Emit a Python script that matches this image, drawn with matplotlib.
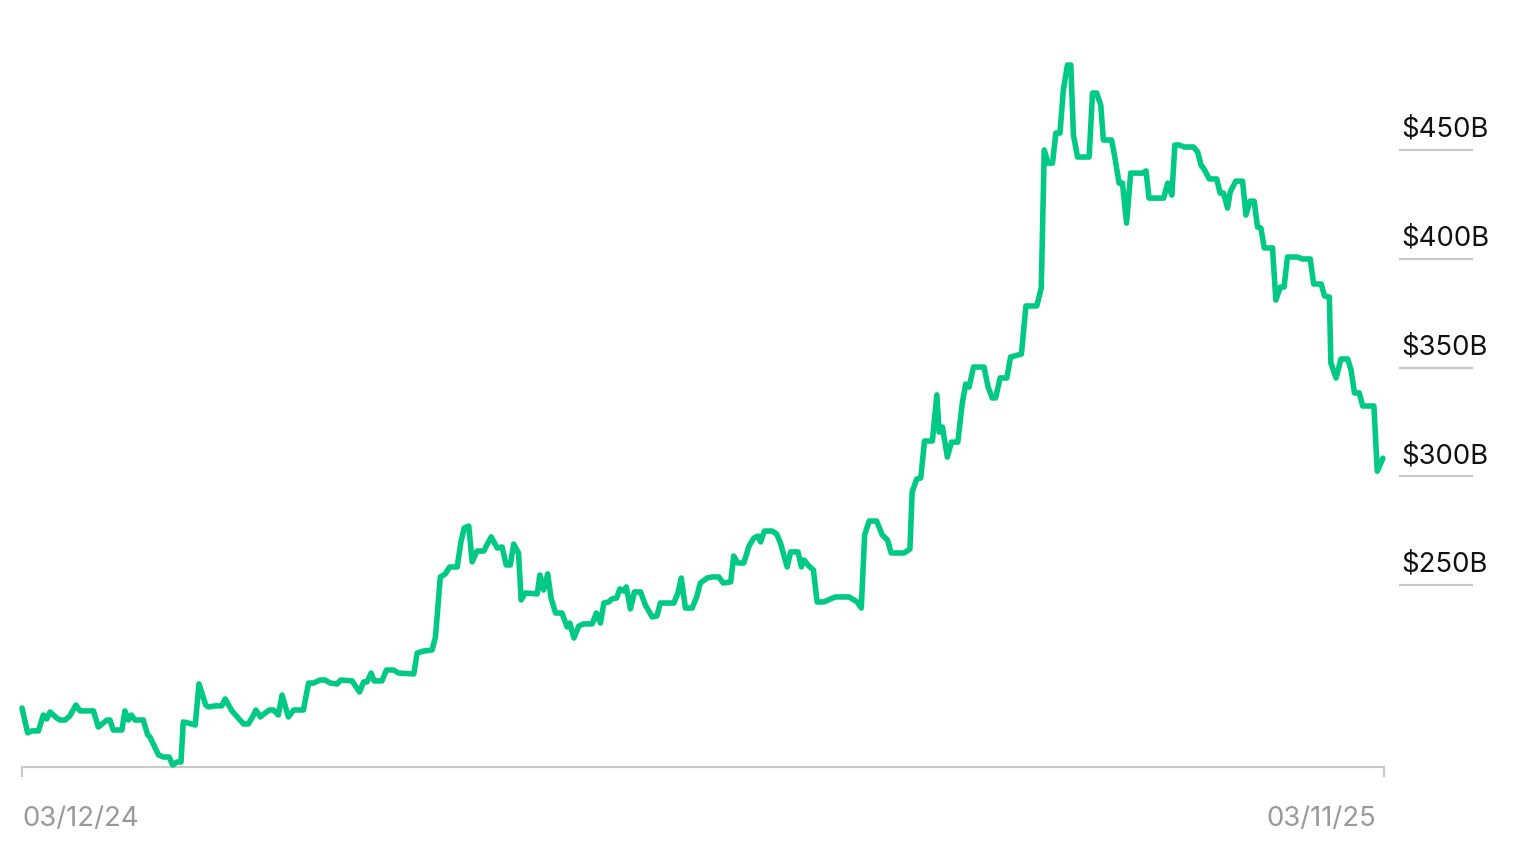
import matplotlib.pyplot as plt
from matplotlib.transforms import blended_transform_factory

plt.rcParams['font.family'] = ['Inter', 'DejaVu Sans']

# days since 03/12/24, value in billions of dollars
days = [0, 1.5, 2.6, 4.4, 5.7, 6.6, 7.5, 9.3, 10.2, 11.5, 12.8, 14.4, 15.5, 19.1, 20.4, 22.7, 23.5, 24.4, 26.7, 27.5,
        28.4, 29.2, 30.2, 32.4, 33.6, 34.2, 36.5, 37.8, 39.3, 40.3, 41.4, 42.5, 43.1, 44.5, 46.3, 47.3, 49.1, 49.8, 51.6, 53.4,
        54.3, 56.1, 59.2, 60.5, 61.6, 62.5, 63.7, 64.3, 66.1, 67.2, 68.5, 69.5, 71.2, 72.6, 75.2, 76.6, 77.9, 79.7, 81.0, 82.4,
        84.2, 85.2, 88.2, 90.2, 91.3, 92.2, 93.3, 94.1, 96.2, 97.4, 99.3, 100.6, 104.7, 105.6, 107.3, 109.6, 110.5, 111.8, 113.1, 114.3,
        116.3, 117.3, 118.2, 119.4, 120.3, 121.6, 123.4, 125.4, 127.0, 128.3, 129.4, 130.5, 131.4, 132.7, 133.4, 134.5, 137.7, 138.4, 139.4, 140.5,
        141.4, 142.6, 144.3, 145.7, 146.4, 147.5, 148.8, 150.1, 152.4, 153.5, 154.6, 155.5, 156.8, 157.7, 158.9, 159.8, 160.8, 161.5, 162.6, 163.7,
        165.3, 166.6, 168.4, 169.7, 170.6, 174.2, 175.3, 176.2, 177.3, 179.1, 180.3, 181.3, 183.1, 184.5, 186.2, 187.4, 189.4, 190.2, 191.3, 192.9,
        194.3, 195.6, 196.7, 197.4, 198.4, 200.5, 201.7, 202.7, 204.5, 205.4, 207.4, 208.3, 209.0, 210.3, 211.5, 212.5, 214.3, 216.1, 217.4, 221.0,
        223.2, 224.3, 225.2, 226.4, 228.4, 229.9, 231.3, 232.3, 235.7, 237.3, 237.9, 239.1, 240.2, 241.2, 243.3, 244.5, 245.1, 246.0, 247.3, 248.4,
        250.1, 251.3, 252.2, 253.1, 254.3, 257.1, 258.2, 259.3, 260.2, 261.4, 263.2, 264.2, 267.1, 268.3, 271.2, 272.4, 273.2, 274.2, 275.4, 276.3,
        277.4, 278.3, 279.4, 280.3, 281.0, 282.1, 285.2, 286.1, 287.2, 288.3, 289.0, 291.2, 292.1, 293.2, 294.1, 295.2, 296.3, 299.5, 300.4, 301.2,
        305.1, 306.2, 307.3, 308.1, 309.3, 310.6, 313.1, 314.2, 315.1, 315.9, 317.3, 319.3, 320.2, 321.1, 322.2, 322.9, 324.4, 326.2, 327.1, 328.2,
        329.3, 330.2, 331.1, 332.0, 334.2, 335.1, 336.3, 337.3, 338.2, 340.9, 342.2, 344.3, 345.2, 347.2, 348.1, 349.4, 349.8, 351.2, 352.5, 354.3,
        355.2, 356.1, 357.4, 358.3, 361.3, 362.2, 363.7]
values = [193.4, 182.0, 182.9, 182.9, 190.2, 188.4, 191.6, 188.8, 187.9, 187.9, 189.8, 194.8, 192.1, 192.1, 184.7, 187.9, 187.9, 183.3, 183.3, 192.1,
          187.9, 190.2, 187.9, 187.9, 181.0, 180.1, 171.8, 170.9, 170.9, 167.2, 168.6, 168.6, 187.0, 186.5, 185.6, 204.5, 194.8, 193.9, 194.4, 194.4,
          197.6, 192.1, 186.1, 186.1, 189.3, 192.5, 189.3, 190.2, 192.5, 192.5, 190.2, 199.4, 189.3, 192.5, 192.5, 204.9, 204.9, 206.3, 206.3, 204.9,
          204.5, 206.3, 205.9, 200.8, 205.4, 205.4, 209.5, 205.9, 205.9, 210.9, 210.9, 209.5, 209.1, 218.7, 219.6, 220.1, 226.1, 253.7, 255.0, 258.3,
          258.3, 269.7, 276.2, 277.1, 260.6, 265.6, 265.6, 272.1, 267.0, 267.5, 259.2, 259.2, 268.8, 264.7, 243.1, 246.3, 245.9, 254.6, 247.7, 255.1,
          244.0, 237.1, 237.1, 230.7, 232.5, 225.6, 231.1, 232.1, 232.1, 237.1, 232.5, 241.7, 242.2, 243.6, 244.0, 248.2, 247.2, 249.1, 239.0, 246.8,
          246.8, 240.8, 235.3, 235.8, 241.7, 241.7, 246.3, 253.2, 239.4, 239.4, 244.5, 250.9, 253.2, 253.7, 253.7, 250.9, 251.4, 263.3, 260.1, 260.1,
          267.9, 271.6, 272.5, 269.8, 274.8, 274.8, 273.4, 269.3, 258.3, 265.2, 265.2, 258.3, 261.5, 258.7, 256.9, 242.2, 242.2, 243.6, 244.5, 244.5,
          242.2, 239.4, 273.0, 279.4, 279.4, 273.0, 270.7, 264.7, 264.7, 266.5, 292.7, 298.7, 299.2, 316.2, 316.2, 337.4, 320.3, 322.6, 308.8, 315.7,
          315.7, 333.7, 342.4, 341.0, 350.2, 350.2, 341.0, 336.0, 336.0, 345.2, 345.2, 354.8, 356.2, 378.3, 378.3, 386.5, 450.0, 444.0, 444.0, 457.8,
          457.8, 477.6, 489.1, 489.1, 456.9, 446.8, 446.8, 476.2, 476.2, 470.7, 454.6, 454.6, 446.3, 434.8, 434.8, 416.4, 439.4, 439.4, 440.4, 427.9,
          427.9, 434.8, 429.3, 452.3, 452.3, 451.4, 451.4, 449.1, 443.1, 441.3, 436.7, 436.7, 430.2, 430.2, 423.3, 430.7, 435.7, 435.7, 420.1, 426.5,
          426.5, 414.6, 414.1, 405.0, 405.0, 381.0, 387.0, 387.0, 400.8, 400.8, 399.9, 399.9, 388.4, 388.4, 382.9, 382.4, 352.1, 345.2, 353.9, 353.9,
          348.8, 338.3, 338.3, 332.3, 332.3, 302.3, 308.3]

y_ticks = [250, 300, 350, 400, 450]
y_labels = ['$250B', '$300B', '$350B', '$400B', '$450B']
x_labels = ['03/12/24', '03/11/25']

green = '#00C985'
axis_gray = '#c9c9c9'

fig = plt.figure(figsize=(15.38, 8.56), dpi=100)
ax = fig.add_axes([22 / 1538, 89 / 856, 1362 / 1538, 727 / 856])

ax.plot(days, values, color=green, lw=4.0, solid_joinstyle='round', solid_capstyle='round',
        clip_on=False, zorder=3)

ax.set_xlim(0, 364)
ax.set_ylim(166.3, 500.6)

for side in ['top', 'right', 'left']:
    ax.spines[side].set_visible(False)
ax.spines['bottom'].set_color(axis_gray)
ax.spines['bottom'].set_linewidth(1.6)
ax.set_yticks([])
ax.set_xticks([0, 364])
ax.set_xticklabels([])
ax.tick_params(axis='x', length=7.5, width=1.6, color=axis_gray)

# right-hand value labels with short rules
trans = blended_transform_factory(ax.transAxes, ax.transData)
for v, lab in zip(y_ticks, y_labels):
    ax.plot([1.0117, 1.0646], [v, v], transform=trans, color=axis_gray, lw=1.6, clip_on=False)
    ax.annotate(lab, xy=(1.0125, v), xycoords=trans, xytext=(0, 9.5), textcoords='offset points',
                ha='left', va='baseline', fontsize=19.8, color='#111111', annotation_clip=False)

# date labels at both ends
ax.annotate(x_labels[0], xy=(0, 0), xycoords='axes fraction', xytext=(0, -42.5),
            textcoords='offset points', ha='left', va='baseline', fontsize=19.8, color='#999999')
ax.annotate(x_labels[1], xy=(1, 0), xycoords='axes fraction', xytext=(-6, -42.5),
            textcoords='offset points', ha='right', va='baseline', fontsize=19.8, color='#999999')

fig.savefig('out.png', dpi=100)
